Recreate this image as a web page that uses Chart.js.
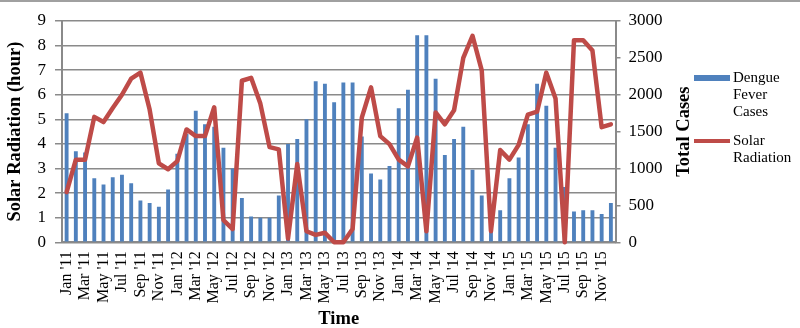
<!DOCTYPE html>
<html lang="en">
<head>
    <meta charset="UTF-8">
    <title>Dengue Fever Cases and Solar Radiation</title>
    <script src="https://cdn.jsdelivr.net/npm/chart.js"></script>
    <style>
        body { margin: 0; background: #fff; }
    </style>
</head>
<body>

<canvas id="dengueChart" width="800" height="328"></canvas>

<script>
    // categories
    const monthNames = ['Jan', 'Feb', 'Mar', 'Apr', 'May', 'Jun', 'Jul', 'Aug', 'Sep', 'Oct', 'Nov', 'Dec'];
    const years = ["'11", "'12", "'13", "'14", "'15"];

    // bar series (left axis, 0-9)
    const dengueCases = [
        5.25, 3.7, 3.65, 2.6, 2.35, 2.65, 2.75, 2.4, 1.7, 1.6, 1.45, 2.15,
        3.6, 4.4, 5.35, 4.8, 4.7, 3.85, 3.0, 1.8, 1.05, 1.0, 1.0, 1.9,
        4.0, 4.2, 5.0, 6.55, 6.45, 5.7, 6.5, 6.5, 4.3, 2.8, 2.55, 3.1,
        5.45, 6.2, 8.42, 8.42, 6.65, 3.55, 4.2, 4.7, 2.95, 1.9, 1.3, 1.3,
        2.6, 3.45, 4.8, 6.45, 5.55, 3.85, 2.25, 1.25, 1.3, 1.3, 1.15, 1.6
    ];

    // line series (right axis, 0-3000)
    const solarRadiation = [
        680, 1120, 1120, 1700, 1630, 1820, 2000, 2220, 2300, 1800, 1070, 990,
        1100, 1530, 1440, 1440, 1830, 300, 180, 2190, 2230, 1880, 1290, 1260,
        50, 1060, 150, 100, 130, 0, 0, 180, 1690, 2100, 1440, 1330,
        1120, 1030, 1420, 150, 1760, 1600, 1790, 2500, 2800, 2330, 150, 1250,
        1120, 1320, 1730, 1770, 2300, 1950, 0, 2740, 2740, 2600, 1560, 1600
    ];

    // tick labels
    const leftTicks = [0, 1, 2, 3, 4, 5, 6, 7, 8, 9];
    const rightTicks = [0, 500, 1000, 1500, 2000, 2500, 3000];

    const labels = [];
    years.forEach(y => monthNames.forEach(m => labels.push(m + ' ' + y)));

    const serif = '"Liberation Serif", "Times New Roman", serif';
    const gridGray = '#8a8a8a';

    // top frame line, white background, right axis title and the legend
    const decorations = {
        id: 'decorations',
        beforeDraw(chart) {
            const ctx = chart.ctx;
            ctx.save();
            ctx.fillStyle = '#fff';
            ctx.fillRect(0, 0, chart.width, chart.height);
            ctx.fillStyle = '#a0a0a0';
            ctx.fillRect(0, 0, chart.width, 2);
            ctx.restore();
        },
        afterDraw(chart) {
            const ctx = chart.ctx;
            const area = chart.chartArea;
            ctx.save();

            // right axis title, reading bottom to top
            ctx.font = 'bold 18.5px ' + serif;
            ctx.fillStyle = '#000';
            ctx.textAlign = 'center';
            ctx.textBaseline = 'middle';
            ctx.translate(area.right + 69, (area.top + area.bottom) / 2);
            ctx.rotate(-Math.PI / 2);
            ctx.fillText('Total Cases', 0, 0);
            ctx.setTransform(1, 0, 0, 1, 0, 0);

            // legend
            ctx.font = '15px ' + serif;
            ctx.textAlign = 'left';
            const lx = 694, tx = 733, maxW = 62;
            const rows = [78, 141];
            chart.data.datasets.forEach((ds, i) => {
                const y = rows[i];
                if (ds.type === 'line') {
                    ctx.strokeStyle = ds.borderColor;
                    ctx.lineWidth = 4;
                    ctx.beginPath();
                    ctx.moveTo(lx, y);
                    ctx.lineTo(lx + 36, y);
                    ctx.stroke();
                } else {
                    ctx.fillStyle = ds.backgroundColor;
                    ctx.fillRect(lx, y - 3, 36, 6);
                }
                // wrap label words
                const lines = [];
                let cur = '';
                ds.label.split(' ').forEach(w => {
                    const test = cur ? cur + ' ' + w : w;
                    if (cur && ctx.measureText(test).width > maxW) {
                        lines.push(cur);
                        cur = w;
                    } else {
                        cur = test;
                    }
                });
                lines.push(cur);
                ctx.fillStyle = '#000';
                lines.forEach((t, k) => ctx.fillText(t, tx, y + k * 17));
            });
            ctx.restore();
        }
    };

    const ctx = document.getElementById('dengueChart').getContext('2d');

    new Chart(ctx, {
        data: {
            labels: labels,
            datasets: [{
                type: 'bar',
                label: 'Dengue Fever Cases',
                data: dengueCases,
                backgroundColor: '#4f81bd',
                barPercentage: 0.42,
                categoryPercentage: 1.0,
                yAxisID: 'y',
                order: 2
            }, {
                type: 'line',
                label: 'Solar Radiation',
                data: solarRadiation,
                borderColor: '#be4b48',
                borderWidth: 4.5,
                borderJoinStyle: 'round',
                borderCapStyle: 'round',
                pointRadius: 0,
                tension: 0,
                clip: false,
                yAxisID: 'y1',
                order: 1
            }]
        },
        options: {
            responsive: false,
            devicePixelRatio: 1,
            animation: false,
            layout: {
                padding: { top: 21, right: 101, left: 6, bottom: 0 }
            },
            plugins: {
                legend: { display: false },
                tooltip: { enabled: false }
            },
            scales: {
                x: {
                    grid: {
                        display: true,
                        drawOnChartArea: false,
                        drawTicks: true,
                        tickLength: 9,
                        color: 'rgba(0,0,0,0)'
                    },
                    border: { color: gridGray, width: 2 },
                    ticks: {
                        autoSkip: false,
                        maxRotation: 90,
                        minRotation: 90,
                        padding: 0,
                        color: '#000',
                        font: { family: serif, size: 16 },
                        callback: function (value, index) {
                            return index % 2 === 0 ? this.getLabelForValue(value) : '';
                        }
                    },
                    title: {
                        display: true,
                        text: 'Time',
                        color: '#000',
                        font: { family: serif, size: 18.5, weight: 'bold', lineHeight: 1.0 },
                        padding: { top: 6, bottom: 0 }
                    }
                },
                y: {
                    position: 'left',
                    min: leftTicks[0],
                    max: leftTicks[leftTicks.length - 1],
                    afterBuildTicks: s => { s.ticks = leftTicks.map(v => ({ value: v })); },
                    grid: { color: gridGray, lineWidth: 1.5, tickLength: 7 },
                    border: { color: gridGray, width: 2 },
                    ticks: {
                        autoSkip: false,
                        color: '#000',
                        padding: 9,
                        font: { family: serif, size: 17 },
                        callback: v => String(v)
                    },
                    title: {
                        display: true,
                        text: 'Solar Radiation (hour)',
                        color: '#000',
                        font: { family: serif, size: 18.5, weight: 'bold', lineHeight: 1.0 },
                        padding: { top: 0, bottom: 4 }
                    }
                },
                y1: {
                    position: 'right',
                    min: rightTicks[0],
                    max: rightTicks[rightTicks.length - 1],
                    afterBuildTicks: s => { s.ticks = rightTicks.map(v => ({ value: v })); },
                    grid: { drawOnChartArea: false, color: gridGray, lineWidth: 1.5, tickLength: 5 },
                    border: { color: gridGray, width: 2 },
                    ticks: {
                        autoSkip: false,
                        color: '#000',
                        padding: 8,
                        font: { family: serif, size: 17 },
                        callback: v => String(v)
                    },
                    title: {
                        display: true,
                        text: 'Total Cases',
                        color: 'rgba(0,0,0,0)',
                        font: { family: serif, size: 18.5, weight: 'bold', lineHeight: 1.0 },
                        padding: { top: 8, bottom: 2 }
                    }
                }
            }
        },
        plugins: [decorations]
    });
</script>

</body>
</html>
